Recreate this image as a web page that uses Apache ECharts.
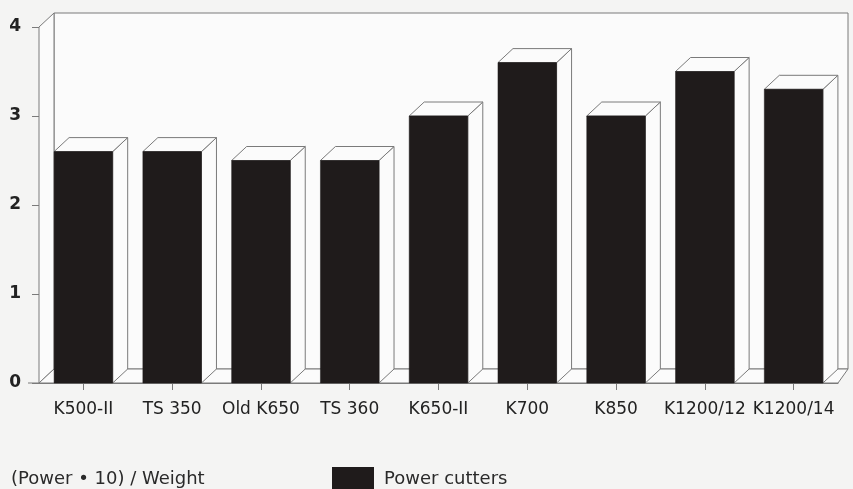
<!DOCTYPE html>
<html>
<head>
<meta charset="utf-8">
<script src="https://cdn.jsdelivr.net/npm/echarts@6/dist/echarts.min.js"></script>
<style>
html,body{margin:0;padding:0;background:#f4f4f3;}
#chart{width:853px;height:489px;}
</style>
</head>
<body>
<div id="chart"></div>
<script>
const categories = ['K500-II', 'TS 350', 'Old K650', 'TS 360', 'K650-II', 'K700', 'K850', 'K1200/12', 'K1200/14'];
const values = [2.6, 2.6, 2.5, 2.5, 3.0, 3.6, 3.0, 3.5, 3.3];
const seriesName = 'Power cutters';
const subtitle = '(Power \u2022 10) / Weight';

const DX = 15, DY = -14;
const LINE = '#7a7a7a';
const BAR = '#1f1b1b';
const FACE = '#fbfbfb';

const chart = echarts.init(document.getElementById('chart'), null, {renderer: 'canvas'});

function frameItem(params, api) {
  const cs = params.coordSys;
  const x0 = cs.x, y0 = cs.y, x1 = cs.x + cs.width, y1 = cs.y + cs.height;
  const xr = x1 + 10;
  const st = {fill: FACE, stroke: LINE, lineWidth: 1};
  return {
    type: 'group',
    children: [
      {type: 'polygon', shape: {points: [[x0 + DX, y0 + DY], [xr, y0 + DY], [xr, y1 + DY], [x0 + DX, y1 + DY]]}, style: st},
      {type: 'polygon', shape: {points: [[x0, y0], [x0 + DX, y0 + DY], [x0 + DX, y1 + DY], [x0, y1]]}, style: st},
      {type: 'polygon', shape: {points: [[x0, y1], [x0 + DX, y1 + DY], [xr, y1 + DY], [x1, y1]]}, style: st},
      {type: 'line', shape: {x1: x0 - 11, y1: y1, x2: x0, y2: y1}, style: {stroke: LINE, lineWidth: 1}}
    ]
  };
}

function barItem(params, api) {
  const idx = api.value(0);
  const v = api.value(1);
  const top = api.coord([idx, v]);
  const base = api.coord([idx, 0]);
  const w = api.size([1, 0])[0] * 0.66;
  const l = top[0] - w / 2, r = top[0] + w / 2;
  const t = top[1], b = base[1];
  const faceStyle = {fill: FACE, stroke: LINE, lineWidth: 1};
  return {
    type: 'group',
    children: [
      {type: 'polygon', shape: {points: [[r, t], [r + DX, t + DY], [r + DX, b + DY], [r, b]]}, style: faceStyle},
      {type: 'polygon', shape: {points: [[l, t], [l + DX, t + DY], [r + DX, t + DY], [r, t]]}, style: faceStyle},
      {type: 'rect', shape: {x: l, y: t, width: w, height: b - t}, style: {fill: BAR, stroke: BAR, lineWidth: 0.5}}
    ]
  };
}

const option = {
  backgroundColor: '#f4f4f3',
  animation: false,
  textStyle: {fontFamily: 'DejaVu Sans'},
  title: {
    text: subtitle,
    left: 11,
    top: 470,
    padding: 0,
    textStyle: {fontSize: 18, fontWeight: 'normal', color: '#2a2a2a', fontFamily: 'DejaVu Sans'}
  },
  legend: {
    data: [{name: seriesName, icon: 'rect', itemStyle: {color: BAR}}],
    left: 332,
    top: 467,
    padding: 0,
    itemWidth: 42,
    itemHeight: 24,
    itemGap: 0,
    textStyle: {fontSize: 18, color: '#2a2a2a', fontFamily: 'DejaVu Sans', padding: [0, 0, 0, 5]}
  },
  grid: {left: 39, right: 15, top: 27, bottom: 106, containLabel: false, outerBoundsMode: 'none'},
  xAxis: {
    type: 'category',
    data: categories,
    axisLine: {show: true, lineStyle: {color: LINE, width: 1}},
    axisTick: {show: true, alignWithLabel: true, length: 7, lineStyle: {color: LINE}},
    axisLabel: {fontSize: 17, color: '#222', margin: 18, interval: 0, fontFamily: 'DejaVu Sans'},
    splitLine: {show: false}
  },
  yAxis: {
    type: 'value',
    min: 0,
    max: 4,
    interval: 1,
    axisLine: {show: true, lineStyle: {color: LINE, width: 1}},
    axisTick: {show: true, length: 7, lineStyle: {color: LINE}},
    axisLabel: {fontSize: 17, color: '#222', margin: 18, fontWeight: 'bold', fontFamily: 'DejaVu Sans'},
    splitLine: {show: false}
  },
  series: [
    {
      name: 'frame',
      type: 'custom',
      renderItem: frameItem,
      data: [[0, 0]],
      silent: true,
      z: 1,
      clip: false
    },
    {
      name: seriesName,
      type: 'custom',
      renderItem: barItem,
      itemStyle: {color: BAR},
      data: categories.map((c, i) => [i, values[i]]),
      encode: {x: 0, y: 1},
      z: 2,
      clip: false
    }
  ]
};
chart.setOption(option);
</script>
</body>
</html>
